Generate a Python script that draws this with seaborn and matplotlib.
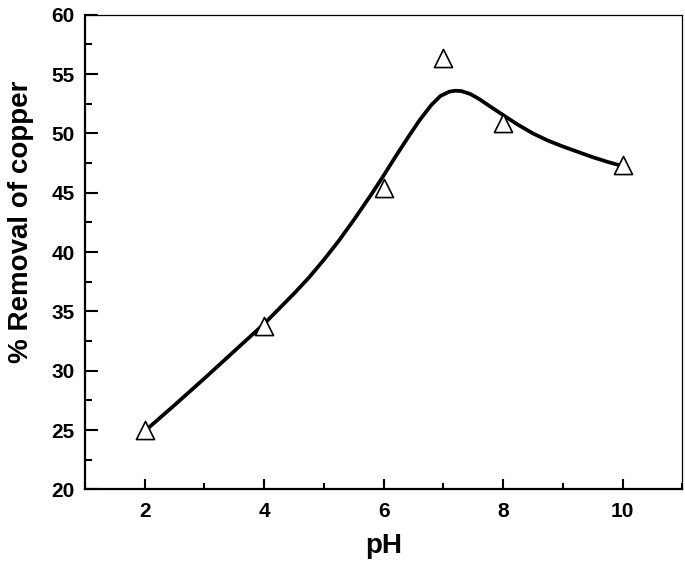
import pandas as pd
import seaborn as sns
import matplotlib.pyplot as plt
from matplotlib.ticker import MultipleLocator

# measured points (open triangles)
ph = [2, 4, 6, 7, 8, 10]
removal = [25.0, 33.8, 45.4, 56.4, 50.85, 47.35]

# smooth fitted curve
curve_ph = [2.0, 2.5, 3.0, 3.5, 4.0, 4.5, 4.75, 5.0, 5.25, 5.5, 5.8, 6.0, 6.2, 6.4,
            6.6, 6.8, 6.95, 7.1, 7.2, 7.3, 7.45, 7.6, 7.8, 8.0, 8.25, 8.5, 8.75,
            9.0, 9.25, 9.5, 9.75, 10.0]
curve_removal = [24.9, 27.1, 29.35, 31.65, 33.95, 36.5, 37.85, 39.35, 40.95, 42.7,
                 44.9, 46.45, 48.05, 49.6, 51.1, 52.4, 53.15, 53.52, 53.6, 53.57,
                 53.33, 52.9, 52.22, 51.55, 50.73, 50.0, 49.4, 48.9, 48.45, 48.0,
                 47.6, 47.25]

pts = pd.DataFrame({"pH": ph, "removal": removal})
curve = pd.DataFrame({"pH": curve_ph, "removal": curve_removal})

sns.set_style("ticks")
plt.rcParams["font.family"] = ["Liberation Sans", "DejaVu Sans"]
plt.rcParams["font.weight"] = "bold"
plt.rcParams.update({"text.color": "black", "axes.labelcolor": "black",
                     "xtick.color": "black", "ytick.color": "black",
                     "axes.edgecolor": "black"})

fig = plt.figure(figsize=(6.85, 5.69), dpi=100)
ax = fig.add_axes([0.124, 0.140, 0.872, 0.834])

sns.lineplot(data=curve, x="pH", y="removal", sort=False, color="black",
             linewidth=2.7, ax=ax, zorder=2)
sns.scatterplot(data=pts, x="pH", y="removal", marker="^", s=170,
                facecolor="white", edgecolor="black", linewidth=1.2, ax=ax, zorder=3)

ax.set_xlim(1, 11)
ax.set_ylim(20, 60)
ax.xaxis.set_major_locator(MultipleLocator(2))
ax.xaxis.set_minor_locator(MultipleLocator(1))
ax.yaxis.set_major_locator(MultipleLocator(5))
ax.yaxis.set_minor_locator(MultipleLocator(2.5))

ax.tick_params(axis="x", which="major", direction="in", length=7.5, width=1.5,
               labelsize=15, pad=9)
ax.tick_params(axis="x", which="minor", direction="in", length=4.5, width=1.5)
ax.tick_params(axis="y", which="major", direction="in", length=9.5, width=1.5,
               labelsize=15, pad=7.5)
ax.tick_params(axis="y", which="minor", direction="in", length=5, width=1.5)
ax.tick_params(top=False, right=False, which="both")
for lbl in ax.get_xticklabels() + ax.get_yticklabels():
    lbl.set_fontweight("bold")

for side in ["left", "bottom"]:
    ax.spines[side].set_linewidth(1.6)
for side in ["top", "right"]:
    ax.spines[side].set_linewidth(0.9)

ax.set_xlabel("pH", fontsize=20, fontweight="bold")
ax.set_ylabel("% Removal of copper", fontsize=20, fontweight="bold")
ax.xaxis.set_label_coords(0.5, -0.092)
ax.yaxis.set_label_coords(-0.0854, 0.564)

fig.savefig("out.png", dpi=100)
